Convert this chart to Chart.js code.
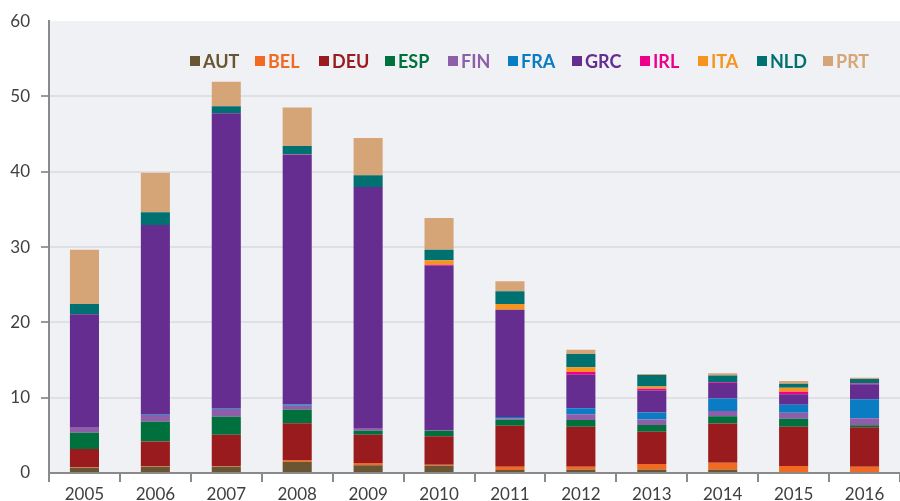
<!DOCTYPE html>
<html>
<head>
<meta charset="utf-8">
<script src="https://cdn.jsdelivr.net/npm/chart.js@4/dist/chart.umd.min.js"></script>
<style>
html,body{margin:0;padding:0;background:#fff;}
#wrap{width:900px;height:501px;}
</style>
</head>
<body>
<div id="wrap"><canvas id="c" width="900" height="501"></canvas></div>
<script>
const years = ['2005','2006','2007','2008','2009','2010','2011','2012','2013','2014','2015','2016'];
const seriesNames = ['AUT','BEL','DEU','ESP','FIN','FRA','GRC','IRL','ITA','NLD','PRT'];
const AUT = [0.70,0.84,0.84,1.50,1.02,0.97,0.40,0.44,0.44,0.44,0.00,0.00];
const BEL = [0.05,0.05,0.05,0.23,0.31,0.13,0.44,0.40,0.75,0.93,0.93,0.84];
const DEU = [2.45,3.30,4.20,4.87,3.76,3.77,5.44,5.31,4.28,5.20,5.22,5.23];
const ESP = [2.16,2.60,2.39,1.80,0.53,0.75,0.80,0.89,0.89,0.97,1.06,0.26];
const FIN = [0.75,0.90,1.02,0.54,0.36,0.10,0.18,0.76,0.76,0.70,0.80,0.93];
const FRA = [0.00,0.10,0.10,0.15,0.00,0.00,0.18,0.79,0.93,1.65,1.06,2.53];
const GRC = [14.96,25.15,39.17,33.20,32.00,21.80,14.25,4.46,2.92,2.07,1.38,1.99];
const IRL = [0.00,0.00,0.00,0.00,0.00,0.15,0.00,0.36,0.22,0.10,0.35,0.12];
const ITA = [0.00,0.00,0.00,0.05,0.00,0.57,0.75,0.63,0.31,0.00,0.53,0.00];
const NLD = [1.37,1.68,0.93,1.10,1.55,1.42,1.69,1.76,1.50,0.90,0.53,0.60];
const PRT = [7.20,5.26,3.27,5.10,4.97,4.19,1.33,0.57,0.14,0.30,0.36,0.14];
const yTicks = [0,10,20,30,40,50,60];

const seriesData = [AUT,BEL,DEU,ESP,FIN,FRA,GRC,IRL,ITA,NLD,PRT];
const colors = ['#6a5533','#f26a22','#991b1e','#00703c','#8e5fa8','#0a7cc3','#662d91','#ec008c','#f7941d','#007070','#d6a577'];

const datasets = seriesNames.map((n,i)=>({
  label:n,
  data:seriesData[i],
  backgroundColor:colors[i],
  borderWidth:0,
  barPercentage:0.41,
  categoryPercentage:1.0
}));

const bgPlugin = {
  id:'bg',
  beforeDraw(chart){
    const {ctx, chartArea:a} = chart;
    ctx.save();
    ctx.fillStyle='#ffffff';
    ctx.fillRect(0,0,chart.width,chart.height);
    ctx.fillStyle='#f0f1f4';
    ctx.fillRect(a.left,a.top,a.right-a.left,a.bottom-a.top);
    ctx.restore();
  }
};

// legend box left edges (layout, px)
const legendX = [190,255,319,385,448,508,572,640,698,757,823];
const legendPlugin = {
  id:'customLegend',
  afterDatasetsDraw(chart){
    const ctx = chart.ctx;
    ctx.save();
    ctx.font = 'bold 18px Lato';
    ctx.textBaseline = 'middle';
    const y = 61;
    chart.data.datasets.forEach((ds,i)=>{
      const x = legendX[i];
      ctx.fillStyle = ds.backgroundColor;
      ctx.fillRect(x, y-5, 10, 10);
      ctx.fillText(ds.label, x+13, y+1);
    });
    ctx.restore();
  }
};

new Chart(document.getElementById('c'), {
  type:'bar',
  data:{labels:years, datasets},
  plugins:[bgPlugin, legendPlugin],
  options:{
    responsive:false,
    animation:false,
    layout:{padding:{top:21,right:0,bottom:0,left:0}},
    plugins:{legend:{display:false}, tooltip:{enabled:false}},
    scales:{
      x:{
        stacked:true,
        grid:{display:true, drawOnChartArea:false, offset:true, tickLength:9, tickColor:'#8a8a8a', lineWidth:2},
        border:{display:true, color:'#8a8a8a', width:2},
        ticks:{color:'#404040', font:{family:'Lato', size:17}, padding:2},
        afterFit(s){ s.height = 28; }
      },
      y:{
        stacked:true,
        min:0, max:60,
        afterBuildTicks(s){ s.ticks = yTicks.map(v=>({value:v})); },
        grid:{
          color:(c)=> (c.tick && (c.tick.value===0 || c.tick.value===60)) ? 'rgba(0,0,0,0)' : '#dfe0e3',
          tickColor:(c)=> (c.tick && (c.tick.value===0 || c.tick.value===60)) ? 'rgba(0,0,0,0)' : '#9a9a9a',
          lineWidth:2, tickLength:8
        },
        border:{display:true, color:'#8a8a8a', width:2},
        ticks:{color:'#404040', font:{family:'Lato', size:17}, padding:11},
        afterFit(s){ s.width = 49; }
      }
    }
  }
});
</script>
</body>
</html>
